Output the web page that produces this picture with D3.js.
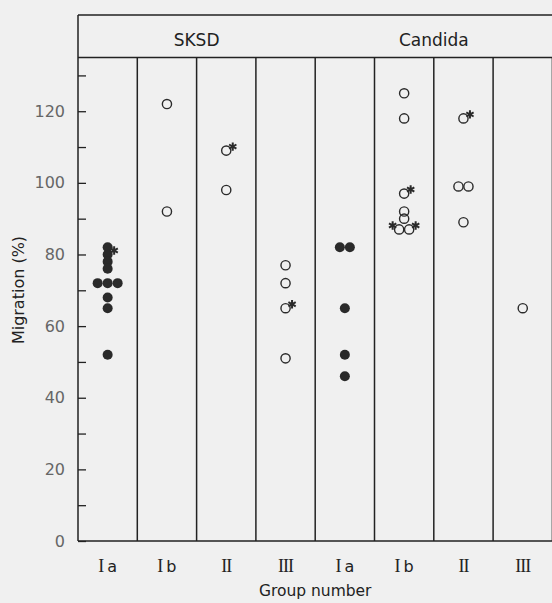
<!DOCTYPE html>
<html>
<head>
    <title>Migration by group number</title>
    <script src="https://d3js.org/d3.v7.min.js"></script>
    <style>
        body {
            margin: 0;
            background: #f0f0f0;
        }
        svg text {
            font-family: "DejaVu Sans", sans-serif;
        }
    </style>
</head>
<body>
    <div id="chart"></div>
    <script>
        // categories
        const antigens = ["SKSD", "Candida"];
        const groups = ["Ia", "Ib", "II", "III"];
        const filledGroups = ["Ia"];

        // y axis ticks (every 10, labelled every 20)
        const yTicks = [0, 10, 20, 30, 40, 50, 60, 70, 80, 90, 100, 110, 120, 130];
        const yLabels = [0, 20, 40, 60, 80, 100, 120];

        // migration (%) per group
        const sksdValues = [
            [82, 80, 78, 76, 72, 72, 72, 68, 65, 52],
            [122, 92],
            [109, 98],
            [77, 72, 65, 51]
        ];
        const sksdStarred = [[80], [], [109], [65]];

        const candidaValues = [
            [82, 82, 65, 52, 46],
            [125, 118, 97, 92, 90, 87, 87],
            [118, 99, 99, 89],
            [65]
        ];
        const candidaStarred = [[], [97, 87, 87], [118], []];

        const width = 552, height = 603;
        const plotLeft = 78, frameTop = 15, headerY = 57.5, plotBottom = 541;
        const panelW = 59.3;

        const svg = d3.select('#chart')
            .append('svg')
            .attr('width', width)
            .attr('height', height);

        svg.append('rect')
            .attr('width', width)
            .attr('height', height)
            .attr('fill', '#f0f0f0');

        // one column per antigen x group
        const columns = [];
        antigens.forEach(a => groups.forEach(g => columns.push(a + '|' + g)));

        const x = d3.scaleBand()
            .domain(columns)
            .range([plotLeft, plotLeft + columns.length * panelW]);

        const y = d3.scaleLinear()
            .domain([0, 135])
            .range([plotBottom, headerY]);

        const plotRight = plotLeft + columns.length * panelW;
        const ink = '#222';

        // frame
        const frame = svg.append('g')
            .attr('stroke', ink)
            .attr('stroke-width', 1.5)
            .attr('fill', 'none');

        frame.append('line').attr('x1', plotLeft).attr('x2', plotRight).attr('y1', frameTop).attr('y2', frameTop);
        frame.append('line').attr('x1', plotLeft).attr('x2', plotRight).attr('y1', headerY).attr('y2', headerY);
        frame.append('line').attr('x1', plotLeft).attr('x2', plotRight).attr('y1', plotBottom).attr('y2', plotBottom);
        frame.append('line').attr('x1', plotLeft).attr('x2', plotLeft).attr('y1', frameTop).attr('y2', plotBottom);

        frame.selectAll('.divider')
            .data(columns.slice(1).concat(['end']))
            .enter().append('line')
            .attr('class', 'divider')
            .attr('x1', d => d === 'end' ? plotRight : x(d))
            .attr('x2', d => d === 'end' ? plotRight : x(d))
            .attr('y1', headerY)
            .attr('y2', plotBottom);

        // header labels
        antigens.forEach(a => {
            const x0 = x(a + '|' + groups[0]);
            const x1 = x(a + '|' + groups[groups.length - 1]) + x.bandwidth();
            svg.append('text')
                .attr('x', (x0 + x1) / 2)
                .attr('y', 46)
                .attr('text-anchor', 'middle')
                .attr('font-size', 17)
                .attr('fill', ink)
                .text(a);
        });

        // y axis
        const yAxis = svg.append('g')
            .attr('transform', `translate(${plotLeft},0)`)
            .call(d3.axisLeft(y)
                .tickValues(yTicks)
                .tickSizeInner(-8)
                .tickSizeOuter(0)
                .tickPadding(13)
                .tickFormat(d => yLabels.includes(d) ? d : ''));

        yAxis.select('.domain').remove();
        yAxis.selectAll('line').attr('stroke', ink).attr('stroke-width', 1.3);
        yAxis.selectAll('text')
            .attr('font-size', 16)
            .attr('fill', '#666')
            .style('font-family', '"DejaVu Sans", sans-serif');

        svg.append('text')
            .attr('transform', `translate(24,${(frameTop + plotBottom) / 2 + 12}) rotate(-90)`)
            .attr('text-anchor', 'middle')
            .attr('font-size', 16)
            .attr('fill', ink)
            .text('Migration (%)');

        // x axis
        const xAxis = svg.append('g')
            .attr('transform', `translate(0,${plotBottom})`)
            .call(d3.axisBottom(x).tickSize(0).tickPadding(0).tickFormat(''));

        xAxis.select('.domain').remove();
        xAxis.selectAll('.tick text')
            .attr('y', 31)
            .attr('dy', null)
            .attr('font-size', 18)
            .attr('fill', ink)
            .each(function(d) {
                const g = d.split('|')[1];
                const t = d3.select(this);
                if (g[1] === 'a' || g[1] === 'b') {
                    t.append('tspan').style('font-family', '"Liberation Serif", serif').text('I');
                    t.append('tspan').attr('dx', 3).attr('font-size', 16)
                        .style('font-family', '"DejaVu Sans", sans-serif').text(g[1]);
                } else {
                    t.append('tspan')
                        .style('font-family', '"Liberation Serif", serif')
                        .attr('letter-spacing', -1)
                        .text(g);
                }
            });

        svg.append('text')
            .attr('x', (plotLeft + plotRight) / 2)
            .attr('y', 596)
            .attr('text-anchor', 'middle')
            .attr('font-size', 15.5)
            .attr('fill', ink)
            .text('Group number');

        // points: equal values in a column sit side by side
        const points = [];
        const addColumn = (antigen, valuesList, starredList) => {
            groups.forEach((g, gi) => {
                const vals = valuesList[gi];
                const starsLeft = starredList[gi].slice();
                const counts = d3.rollup(vals, v => v.length, v => v);
                const seen = new Map();
                vals.forEach(v => {
                    const n = counts.get(v);
                    const i = seen.get(v) || 0;
                    seen.set(v, i + 1);
                    const k = starsLeft.indexOf(v);
                    const star = k >= 0;
                    if (star) starsLeft.splice(k, 1);
                    points.push({
                        col: antigen + '|' + g,
                        value: v,
                        filled: filledGroups.includes(g),
                        offset: i - (n - 1) / 2,
                        star: star
                    });
                });
            });
        };
        addColumn('SKSD', sksdValues, sksdStarred);
        addColumn('Candida', candidaValues, candidaStarred);

        const spacing = 10;
        const cx = d => x(d.col) + x.bandwidth() / 2 + d.offset * spacing;

        svg.append('g')
            .selectAll('circle')
            .data(points)
            .enter().append('circle')
            .attr('cx', cx)
            .attr('cy', d => y(d.value))
            .attr('r', d => d.filled ? 5 : 4.6)
            .attr('fill', d => d.filled ? '#2a2a2a' : 'none')
            .attr('stroke', '#2a2a2a')
            .attr('stroke-width', d => d.filled ? 0 : 1.4);

        const star = d3.symbol().type(d3.symbolAsterisk).size(50);
        svg.append('g')
            .selectAll('path')
            .data(points.filter(d => d.star))
            .enter().append('path')
            .attr('d', star)
            .attr('transform', d => {
                const side = d.offset < 0 ? -1 : 1;
                return `translate(${cx(d) + side * 6.5},${y(d.value) - 4})`;
            })
            .attr('fill', 'none')
            .attr('stroke', '#2a2a2a')
            .attr('stroke-width', 2);
    </script>
</body>
</html>
